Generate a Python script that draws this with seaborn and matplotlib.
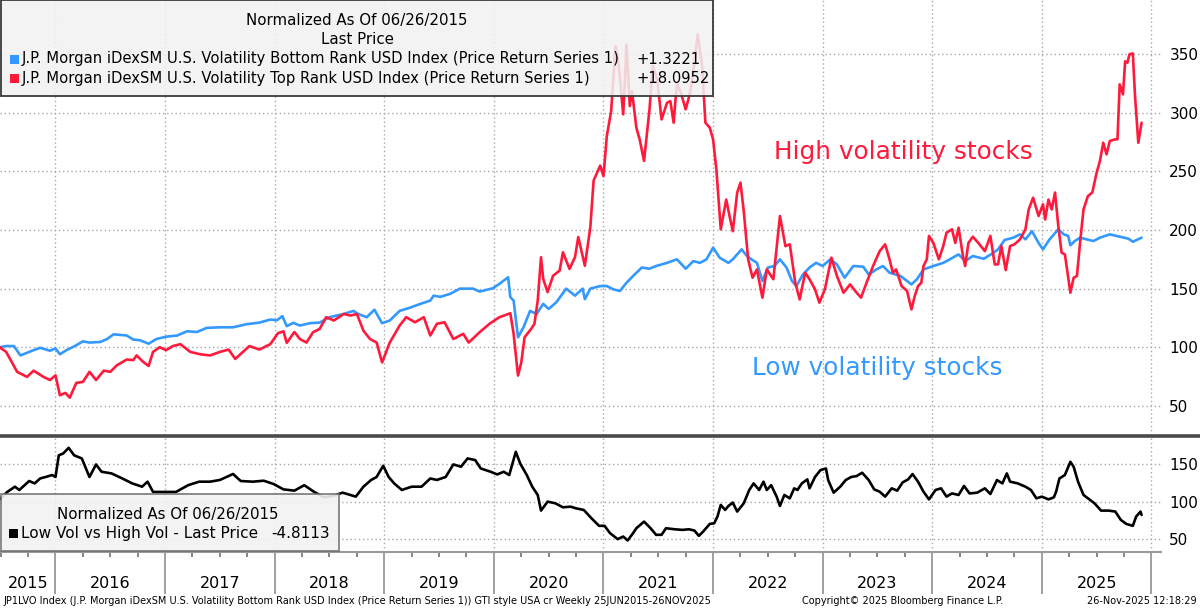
import numpy as np
import pandas as pd
import matplotlib
matplotlib.use("Agg")
import matplotlib.pyplot as plt
import matplotlib.transforms as mtransforms
import seaborn as sns
from matplotlib.patches import Rectangle
from matplotlib.lines import Line2D

sns.set_theme(style="white")
plt.rcParams['font.family'] = ['DejaVu Sans']
plt.rcParams['text.color'] = 'black'
plt.rcParams['xtick.color'] = 'black'
plt.rcParams['ytick.color'] = 'black'

# ---------------- data (decimal years) ----------------
low_t = [2015.49, 2015.55, 2015.62, 2015.68, 2015.80, 2015.86, 2015.95, 2016.00, 2016.04, 2016.10,
         2016.19, 2016.25, 2016.31, 2016.41, 2016.47, 2016.53, 2016.65, 2016.71, 2016.77, 2016.85,
         2016.92, 2017.01, 2017.11, 2017.20, 2017.29, 2017.38, 2017.50, 2017.62, 2017.74, 2017.86,
         2017.96, 2018.02, 2018.07, 2018.11, 2018.17, 2018.23, 2018.32, 2018.41, 2018.50, 2018.63,
         2018.72, 2018.76, 2018.84, 2018.91, 2018.98, 2019.05, 2019.14, 2019.23, 2019.33, 2019.42,
         2019.45, 2019.51, 2019.60, 2019.69, 2019.81, 2019.87, 2019.99, 2020.05, 2020.13, 2020.15,
         2020.18, 2020.22, 2020.27, 2020.33, 2020.39, 2020.45, 2020.50, 2020.57, 2020.66, 2020.74,
         2020.81, 2020.83, 2020.88, 2020.97, 2021.03, 2021.09, 2021.15, 2021.21, 2021.27, 2021.35,
         2021.42, 2021.48, 2021.58, 2021.67, 2021.75, 2021.82, 2021.88, 2021.94, 2022.00, 2022.06,
         2022.14, 2022.18, 2022.26, 2022.31, 2022.35, 2022.40, 2022.45, 2022.50, 2022.56, 2022.61,
         2022.67, 2022.72, 2022.76, 2022.82, 2022.88, 2022.94, 2023.00, 2023.07, 2023.13, 2023.20,
         2023.28, 2023.37, 2023.42, 2023.49, 2023.55, 2023.61, 2023.71, 2023.77, 2023.81, 2023.86,
         2023.92, 2024.01, 2024.10, 2024.16, 2024.24, 2024.30, 2024.37, 2024.47, 2024.56, 2024.60,
         2024.66, 2024.74, 2024.80, 2024.85, 2024.91, 2024.97, 2025.01, 2025.07, 2025.15, 2025.20,
         2025.24, 2025.26, 2025.30, 2025.35, 2025.41, 2025.47, 2025.53, 2025.62, 2025.71, 2025.79,
         2025.83, 2025.91]
low_vals = [100, 101, 101, 93, 97.5, 99.5, 97, 99, 94, 97.5,
            101.7, 105, 104, 104.5, 107, 111, 110, 106.5, 106, 103,
            107, 109, 110, 113.6, 113, 116.5, 117, 117, 119.6, 121,
            123.6, 123, 126.5, 118, 120.8, 118.5, 120.5, 121, 125.6, 128.4,
            131, 128.4, 125.6, 132, 120.5, 122.8, 131, 133.6, 137, 139.8,
            144, 143, 145.5, 150, 150, 147.5, 150.3, 154, 159.7, 142.7,
            139.8, 108.5, 117, 131, 128.4, 137, 132.7, 138.4, 150, 144,
            150, 141, 150, 152.2, 152.2, 149.4, 148, 155, 160.8, 168,
            167, 169.3, 172, 175, 167, 173.5, 172, 175, 185, 176.4,
            172, 175, 183.5, 177.8, 175, 172, 156.5, 168, 169.3, 175,
            168, 156.5, 152.2, 162, 168, 172, 169.3, 175, 170.7, 159.3,
            169.3, 168.7, 162, 166.4, 169.3, 163.6, 160.8, 156.5, 153.6, 158,
            166.4, 169.3, 172, 175, 179.2, 173.5, 177.8, 175.5, 180.7, 183.5,
            191.5, 193.5, 196.3, 192, 199, 189, 183.5, 192, 200.6, 196.3,
            195, 187, 190.6, 193.5, 192, 190.6, 193.5, 196.3, 194.3, 192.6,
            190, 193.5]

high_t = [2015.49, 2015.55, 2015.65, 2015.74, 2015.80, 2015.89, 2015.95, 2016.00, 2016.04, 2016.09,
          2016.13, 2016.19, 2016.25, 2016.31, 2016.37, 2016.44, 2016.50, 2016.56, 2016.65, 2016.71,
          2016.74, 2016.80, 2016.85, 2016.89, 2016.95, 2017.01, 2017.07, 2017.14, 2017.23, 2017.32,
          2017.41, 2017.50, 2017.58, 2017.64, 2017.71, 2017.77, 2017.86, 2017.96, 2018.03, 2018.08,
          2018.11, 2018.18, 2018.23, 2018.29, 2018.35, 2018.41, 2018.47, 2018.54, 2018.63, 2018.69,
          2018.75, 2018.81, 2018.87, 2018.93, 2018.98, 2019.05, 2019.14, 2019.20, 2019.28, 2019.36,
          2019.42, 2019.48, 2019.55, 2019.63, 2019.72, 2019.77, 2019.87, 2019.96, 2020.05, 2020.15,
          2020.18, 2020.22, 2020.25, 2020.28, 2020.34, 2020.37, 2020.40, 2020.43, 2020.45, 2020.49,
          2020.54, 2020.60, 2020.63, 2020.69, 2020.74, 2020.77, 2020.83, 2020.88, 2020.91, 2020.97,
          2021.00, 2021.03, 2021.07, 2021.11, 2021.14, 2021.18, 2021.21, 2021.24, 2021.26, 2021.30,
          2021.33, 2021.37, 2021.42, 2021.45, 2021.49, 2021.53, 2021.58, 2021.61, 2021.64, 2021.67,
          2021.71, 2021.75, 2021.79, 2021.83, 2021.86, 2021.90, 2021.93, 2021.97, 2022.00, 2022.03,
          2022.07, 2022.12, 2022.15, 2022.18, 2022.22, 2022.25, 2022.28, 2022.32, 2022.36, 2022.40,
          2022.45, 2022.49, 2022.55, 2022.61, 2022.66, 2022.70, 2022.75, 2022.79, 2022.84, 2022.88,
          2022.93, 2022.97, 2023.02, 2023.08, 2023.13, 2023.19, 2023.25, 2023.31, 2023.35, 2023.40,
          2023.46, 2023.52, 2023.57, 2023.61, 2023.64, 2023.67, 2023.72, 2023.77, 2023.81, 2023.84,
          2023.87, 2023.90, 2023.92, 2023.95, 2023.97, 2024.01, 2024.06, 2024.10, 2024.13, 2024.18,
          2024.21, 2024.24, 2024.28, 2024.30, 2024.33, 2024.37, 2024.42, 2024.48, 2024.53, 2024.57,
          2024.60, 2024.63, 2024.67, 2024.71, 2024.75, 2024.80, 2024.85, 2024.88, 2024.92, 2024.97,
          2025.01, 2025.03, 2025.06, 2025.09, 2025.12, 2025.15, 2025.18, 2025.21, 2025.23, 2025.26,
          2025.29, 2025.32, 2025.35, 2025.38, 2025.42, 2025.46, 2025.50, 2025.53, 2025.56, 2025.59,
          2025.62, 2025.67, 2025.69, 2025.71, 2025.74, 2025.76, 2025.78, 2025.80, 2025.83, 2025.85,
          2025.88, 2025.91]
high_vals = [100, 96, 79, 74.7, 80, 74.7, 72, 76, 59, 61,
             57, 69.6, 70.4, 79, 72, 80, 79, 84.6, 89.5, 89,
             93, 87.5, 84, 96, 100, 97.5, 101, 102.6, 96, 94,
             93, 96, 98, 90, 96, 101, 98, 102.6, 112, 113.6,
             103.7, 113, 107, 104, 112.8, 115.6, 125.6, 122.8, 128.4, 127,
             128.4, 114, 107, 104, 87, 104, 118.5, 125.6, 121.3, 125.6,
             110, 120, 121.3, 107, 111.4, 104, 112.8, 120, 125.6, 129,
             111.4, 75.8, 87, 108.5, 115.6, 120, 139.8, 176.8, 158.3, 147,
             161, 165.4, 181, 166.8, 176.8, 194, 169.5, 202.4, 242.2, 255,
             246, 280, 301.5, 357, 340, 298.7, 358.4, 305.8, 318.6, 287.3,
             277.4, 259, 303, 340, 328.5, 294.4, 308.6, 310, 291.6, 325.7,
             315.8, 303, 317, 342.8, 367, 340, 291.6, 287.3, 277.4, 251.8,
             200.6, 226, 212, 199, 232, 240.4, 216, 175, 159.3, 166.4,
             142.3, 166.4, 158, 212, 186.3, 187.8, 155, 140.8, 163.6, 158,
             149.4, 138, 149.4, 176.4, 160.8, 146.5, 153.6, 146.5, 142.3, 155,
             169.3, 182, 187.8, 175, 163.6, 166.4, 152.2, 148, 132.3, 143.7,
             152.2, 155, 169.3, 175, 195, 189, 175, 186.3, 197.7, 200.6,
             189, 202, 177.8, 169.3, 189, 194.3, 189, 182, 195, 170.7,
             170.7, 186.3, 165.8, 186.3, 187.8, 192, 200.6, 217.6, 227.6, 212,
             222, 209, 226, 217.6, 232, 203.4, 180.7, 179.2, 166.4, 146.5,
             159.3, 160.8, 190.6, 217.6, 229, 232, 249, 259, 274.5, 264.6,
             276, 277.4, 277.4, 324.3, 315.8, 344, 342.8, 350, 350.7, 314.3,
             274.5, 291.6]

ratio_t = [2015.49, 2015.56, 2015.63, 2015.67, 2015.76, 2015.81, 2015.86, 2015.91, 2015.97, 2016.00,
           2016.03, 2016.07, 2016.12, 2016.17, 2016.24, 2016.31, 2016.37, 2016.42, 2016.51, 2016.61,
           2016.70, 2016.79, 2016.84, 2016.89, 2016.99, 2017.10, 2017.21, 2017.31, 2017.41, 2017.50,
           2017.62, 2017.69, 2017.80, 2017.90, 2017.99, 2018.08, 2018.18, 2018.27, 2018.36, 2018.45,
           2018.53, 2018.62, 2018.69, 2018.74, 2018.81, 2018.88, 2018.93, 2018.99, 2019.04, 2019.09,
           2019.16, 2019.25, 2019.34, 2019.42, 2019.48, 2019.56, 2019.63, 2019.70, 2019.76, 2019.83,
           2019.88, 2019.97, 2020.03, 2020.09, 2020.14, 2020.20, 2020.24, 2020.30, 2020.35, 2020.40,
           2020.43, 2020.49, 2020.56, 2020.63, 2020.70, 2020.75, 2020.82, 2020.89, 2020.96, 2021.01,
           2021.06, 2021.13, 2021.18, 2021.22, 2021.27, 2021.30, 2021.37, 2021.43, 2021.48, 2021.53,
           2021.57, 2021.65, 2021.72, 2021.78, 2021.83, 2021.87, 2021.91, 2021.97, 2022.01, 2022.04,
           2022.07, 2022.11, 2022.14, 2022.18, 2022.22, 2022.28, 2022.33, 2022.37, 2022.42, 2022.46,
           2022.49, 2022.53, 2022.58, 2022.61, 2022.65, 2022.70, 2022.74, 2022.77, 2022.81, 2022.86,
           2022.88, 2022.93, 2022.98, 2023.03, 2023.05, 2023.10, 2023.16, 2023.21, 2023.26, 2023.31,
           2023.36, 2023.42, 2023.47, 2023.52, 2023.57, 2023.63, 2023.68, 2023.73, 2023.78, 2023.82,
           2023.87, 2023.92, 2023.97, 2024.03, 2024.08, 2024.13, 2024.18, 2024.24, 2024.29, 2024.34,
           2024.41, 2024.48, 2024.53, 2024.59, 2024.64, 2024.68, 2024.71, 2024.78, 2024.85, 2024.90,
           2024.95, 2025.00, 2025.06, 2025.11, 2025.13, 2025.16, 2025.21, 2025.26, 2025.29, 2025.33,
           2025.38, 2025.42, 2025.48, 2025.54, 2025.61, 2025.67, 2025.72, 2025.77, 2025.83, 2025.86,
           2025.90, 2025.91]
ratio_vals = [103, 113, 120, 115.6, 127.6, 124.4, 131, 133, 135.6, 133,
              162, 164.4, 172, 162, 157.8, 133, 149.8, 140, 137.8, 131,
              124.4, 120, 126.7, 113, 113, 113, 122, 126.7, 126.7, 129,
              137, 127.6, 126.7, 128, 123.6, 116.4, 114.7, 122, 113, 105.8,
              107.6, 112, 108.9, 106.7, 120, 129, 133, 148, 133, 124.4,
              115.6, 120, 120, 131, 129, 133, 149.8, 146.7, 157.8, 155.6,
              144.4, 140, 136.4, 140, 135.6, 166.7, 151, 135.6, 120, 108.9,
              88, 100, 97.8, 92.4, 93.3, 91, 88.9, 77.8, 67.6, 67.6,
              57.8, 49.8, 53.3, 48, 57.8, 64.4, 73.3, 64.4, 55.6, 55.6,
              64.4, 63, 62.2, 63, 61.3, 54.2, 60, 70.2, 71, 80,
              95.6, 88.9, 94.2, 98.7, 86.7, 97.8, 115.6, 124.4, 115.6, 126.7,
              115.6, 122, 106.7, 94.2, 108.9, 104.4, 117.8, 115.6, 124.4, 129.8,
              117.8, 133, 142.2, 144.4, 128.9, 112, 120, 128.9, 133, 134.2,
              138.7, 128.9, 116.4, 113.3, 106.7, 117.8, 114.7, 125.8, 129.8, 136.9,
              126.7, 113.3, 103, 115.6, 117.8, 106.7, 111, 108.9, 121, 111,
              112, 117.8, 110.2, 128.9, 124.4, 137.8, 126.7, 124.4, 120, 115.6,
              104.4, 106.7, 103, 105.8, 113.3, 131, 135.6, 153.3, 146.7, 126.7,
              108.9, 104.4, 97.8, 88, 88, 86.7, 75.6, 70.2, 67.6, 80,
              86.7, 82.2]

top_ticks = [50, 100, 150, 200, 250, 300, 350]
bottom_ticks = [50, 100, 150]
years = list(range(2015, 2026))
legend_top_title = ["Normalized As Of 06/26/2015", "Last Price"]
legend_top_names = ["J.P. Morgan iDexSM U.S. Volatility Bottom Rank USD Index (Price Return Series 1)",
                    "J.P. Morgan iDexSM U.S. Volatility Top Rank USD Index (Price Return Series 1)"]
legend_top_values = ["+1.3221", "+18.0952"]
legend_bot_title = "Normalized As Of 06/26/2015"
legend_bot_name = "Low Vol vs High Vol - Last Price"
legend_bot_value = "-4.8113"

# ---------------- styling ----------------
BLUE = "#3399FF"
RED = "#FF1A3C"
GRID = "#a8a8a8"
W, H = 1200, 608
XMIN, XMAX = 2015.4936, 2026.087

fig = plt.figure(figsize=(12, 6.08), dpi=100)
fig.patch.set_facecolor("white")

def fx(px):
    return px / W

def fy(py):
    return 1 - py / H

ax1 = fig.add_axes([0, fy(435), fx(1161), 435 / H])
ax2 = fig.add_axes([0, fy(551.7), fx(1161), (551.7 - 437) / H])

df_low = pd.DataFrame({"t": low_t, "v": low_vals})
df_high = pd.DataFrame({"t": high_t, "v": high_vals})
df_ratio = pd.DataFrame({"t": ratio_t, "v": ratio_vals})

sns.lineplot(data=df_low, x="t", y="v", ax=ax1, color=BLUE, lw=1.9, estimator=None, zorder=3)
sns.lineplot(data=df_high, x="t", y="v", ax=ax1, color=RED, lw=1.9, estimator=None, zorder=4)
sns.lineplot(data=df_ratio, x="t", y="v", ax=ax2, color="black", lw=1.9, estimator=None, zorder=3)

year_bounds = list(range(2016, 2027))
for ax, ticks, ylim in [(ax1, top_ticks, (25.1, 396.3)), (ax2, bottom_ticks, (33.0, 186.5))]:
    ax.set_xlim(XMIN, XMAX)
    ax.set_ylim(*ylim)
    ax.set_xlabel("")
    ax.set_ylabel("")
    ax.set_facecolor("white")
    ax.set_yticks(ticks)
    ax.yaxis.tick_right()
    ax.tick_params(axis="y", length=0, pad=6, labelsize=11, labelcolor="black")
    ax.set_xticks(year_bounds)
    ax.grid(True, axis="both", linestyle=(0, (1, 2)), color=GRID, lw=1.0)
    for s in ax.spines.values():
        s.set_visible(False)

ax1.tick_params(axis="x", length=0, labelbottom=False)

# bottom axis styling
ax2.spines["bottom"].set_visible(True)
ax2.spines["bottom"].set_color("#9a9a9a")
ax2.spines["bottom"].set_linewidth(1.5)
ax2.set_xticklabels([])
ax2.tick_params(axis="x", which="major", length=30, width=1.4, color="#a0a0a0", direction="out", bottom=True)
minor = [y + q for y in range(2015, 2026) for q in (0.25, 0.5, 0.75)]
minor = [m for m in minor if XMIN < m < XMAX]
ax2.set_xticks(minor, minor=True)
ax2.tick_params(axis="x", which="minor", length=3.5, width=1.2, color="#707070", direction="out", bottom=True)

ytrans = mtransforms.blended_transform_factory(ax2.transData, fig.transFigure)
for y in years:
    left = max(y, XMIN)
    right = min(y + 1, XMAX)
    ax2.text((left + right) / 2, fy(583), str(y), transform=ytrans,
             ha="center", va="center", fontsize=11.5, color="black")

# divider
fig.add_artist(Line2D([0, 1], [fy(435.5), fy(435.5)], color="#4a4a4a", lw=2.6, zorder=6))

# annotations
fig.text(fx(774), fy(158.5), "High volatility stocks", color=RED, fontsize=17.8, ha="left", va="baseline")
fig.text(fx(752), fy(375), "Low volatility stocks", color=BLUE, fontsize=17.8, ha="left", va="baseline")

# top legend box
fig.add_artist(Rectangle((fx(0.5), fy(96)), fx(712), 95.5 / H, transform=fig.transFigure,
                         facecolor="#f2f2f2", alpha=0.86, edgecolor="none", zorder=7))
fig.add_artist(Rectangle((fx(0.5), fy(96)), fx(712), 95.5 / H, transform=fig.transFigure,
                         facecolor="none", edgecolor="#3a3a3a", lw=1.3, zorder=8))
LF = 10.6
fig.text(fx(357), fy(20.5), legend_top_title[0], ha="center", va="center", fontsize=10.8, zorder=9)
fig.text(fx(357), fy(39.5), legend_top_title[1], ha="center", va="center", fontsize=10.8, zorder=9)
for i, (nm, val, col) in enumerate(zip(legend_top_names, legend_top_values, [BLUE, RED])):
    yc = 59 + i * 19.5
    fig.add_artist(Rectangle((fx(10), fy(yc + 4.5)), fx(9), 9 / H, transform=fig.transFigure,
                             facecolor=col, edgecolor="none", zorder=9))
    fig.text(fx(22), fy(yc), nm, ha="left", va="center", fontsize=LF, zorder=9)
    fig.text(fx(636), fy(yc), val, ha="left", va="center", fontsize=LF, zorder=9)

# bottom legend box
fig.add_artist(Rectangle((fx(0.5), fy(551)), fx(339), 57 / H, transform=fig.transFigure,
                         facecolor="#f2f2f2", alpha=0.9, edgecolor="#6a6a6a", lw=1.2, zorder=7))
fig.text(fx(168), fy(514), legend_bot_title, ha="center", va="center", fontsize=10.8, zorder=9)
fig.add_artist(Rectangle((fx(9), fy(538)), fx(9), 9 / H, transform=fig.transFigure,
                         facecolor="black", edgecolor="none", zorder=9))
fig.text(fx(21), fy(533.5), legend_bot_name, ha="left", va="center", fontsize=11.0, zorder=9)
fig.text(fx(330), fy(533.5), legend_bot_value, ha="right", va="center", fontsize=11.0, zorder=9)

# footer
FF = 7.0
fig.text(fx(3), fy(601), "JP1LVO Index (J.P. Morgan iDexSM U.S. Volatility Bottom Rank USD Index (Price Return Series 1)) "
         "GTI style USA cr Weekly 25JUN2015-26NOV2025", ha="left", va="center", fontsize=FF)
fig.text(fx(903), fy(601), "Copyright\u00a9 2025 Bloomberg Finance L.P.", ha="center", va="center", fontsize=FF)
fig.text(fx(1197), fy(601), "26-Nov-2025 12:18:29", ha="right", va="center", fontsize=FF)

fig.savefig("out.png", dpi=100, facecolor="white")
